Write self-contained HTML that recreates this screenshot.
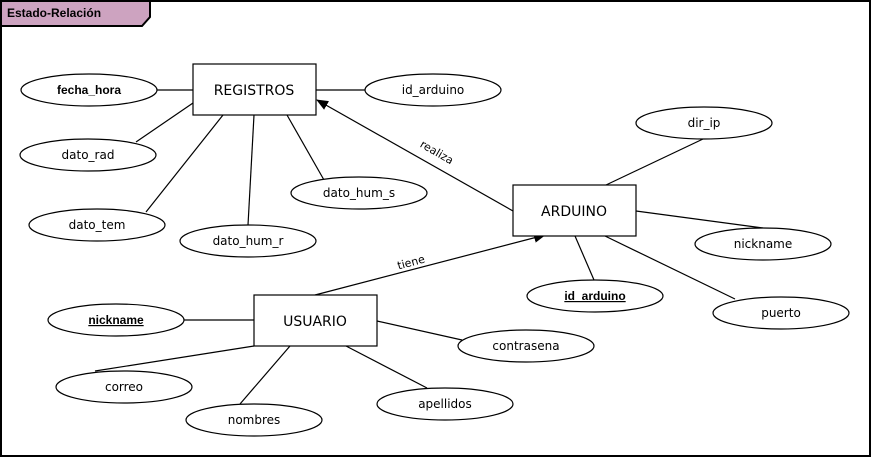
<!DOCTYPE html>
<html><head><meta charset="utf-8"><style>
html,body{margin:0;padding:0;background:#fff}
svg{display:block}
text{font-family:"DejaVu Sans","Liberation Sans",sans-serif;font-size:12px;fill:#000}
</style></head><body>
<svg width="871" height="457" viewBox="0 0 871 457" xmlns="http://www.w3.org/2000/svg">
<defs><marker id="a" markerWidth="12" markerHeight="10" refX="11" refY="5" orient="auto" markerUnits="userSpaceOnUse"><path d="M0,0 L12,5 L0,10 z" fill="#000"/></marker></defs>
<rect x="1" y="1" width="869" height="455" fill="#fff" stroke="#000" stroke-width="2"/>
<path d="M1,1 H150 V17 L142,26 H1 Z" fill="#cda3c0" stroke="#000" stroke-width="2"/>
<text x="7" y="17" style="font-family:'Liberation Sans',sans-serif;font-weight:bold;font-size:12px">Estado-Relación</text>
<g stroke="#000" stroke-width="1.2" fill="none">
<line x1="157" y1="90" x2="193" y2="90"/>
<line x1="316" y1="90" x2="365" y2="90"/>
<line x1="136" y1="142" x2="193" y2="103"/>
<line x1="146" y1="212" x2="223" y2="115"/>
<line x1="248" y1="225" x2="254" y2="115"/>
<line x1="324" y1="180" x2="287" y2="115"/>
<line x1="513" y1="211" x2="317" y2="100" marker-end="url(#a)"/>
<line x1="315" y1="295" x2="545" y2="235" marker-end="url(#a)"/>
<line x1="606" y1="185" x2="703" y2="139"/>
<line x1="636" y1="211" x2="763" y2="228"/>
<line x1="575" y1="236" x2="594" y2="280"/>
<line x1="605" y1="236" x2="735" y2="299"/>
<line x1="184" y1="320" x2="254" y2="320"/>
<line x1="377" y1="321" x2="462" y2="340"/>
<line x1="95" y1="371" x2="254" y2="346"/>
<line x1="240" y1="404" x2="290" y2="346"/>
<line x1="427" y1="388" x2="346" y2="346"/>
</g>
<g fill="#fff" stroke="#000" stroke-width="1.2">
<rect x="193" y="64" width="123" height="51"/>
<rect x="513" y="185" width="123" height="51"/>
<rect x="254" y="295" width="123" height="51"/>
<ellipse cx="89" cy="90" rx="68" ry="16"/>
<ellipse cx="433" cy="90" rx="68" ry="16"/>
<ellipse cx="88" cy="155" rx="68" ry="16"/>
<ellipse cx="97" cy="225" rx="68" ry="16"/>
<ellipse cx="248" cy="241" rx="68" ry="16"/>
<ellipse cx="359" cy="193" rx="68" ry="16"/>
<ellipse cx="704" cy="123" rx="68" ry="16"/>
<ellipse cx="763" cy="244" rx="68" ry="16"/>
<ellipse cx="595" cy="296" rx="68" ry="16"/>
<ellipse cx="781" cy="313" rx="68" ry="16"/>
<ellipse cx="116" cy="320" rx="68" ry="16"/>
<ellipse cx="526" cy="346" rx="68" ry="16"/>
<ellipse cx="124" cy="387" rx="68" ry="16"/>
<ellipse cx="254" cy="420" rx="68" ry="16"/>
<ellipse cx="445" cy="404" rx="68" ry="16"/>
</g>
<g text-anchor="middle">
<text x="254" y="95" style="font-size:14px">REGISTROS</text>
<text x="574" y="216" style="font-size:14px">ARDUINO</text>
<text x="315" y="326" style="font-size:14px">USUARIO</text>
<text x="89" y="94" font-weight="bold" style="font-family:'Liberation Sans',sans-serif;font-weight:bold">fecha_hora</text>
<text x="433" y="94">id_arduino</text>
<text x="88" y="159">dato_rad</text>
<text x="97" y="229">dato_tem</text>
<text x="248" y="245">dato_hum_r</text>
<text x="359" y="197">dato_hum_s</text>
<text x="704" y="127">dir_ip</text>
<text x="763" y="248">nickname</text>
<text x="595" y="300" text-decoration="underline" style="font-family:'Liberation Sans',sans-serif;font-weight:bold">id_arduino</text>
<text x="781" y="317">puerto</text>
<text x="116" y="324" text-decoration="underline" style="font-family:'Liberation Sans',sans-serif;font-weight:bold">nickname</text>
<text x="526" y="350">contrasena</text>
<text x="124" y="391">correo</text>
<text x="254" y="424">nombres</text>
<text x="445" y="408">apellidos</text>
<text x="437" y="156" transform="rotate(30 437 152)" style="font-size:11px">realiza</text>
<text x="411" y="266" transform="rotate(-15 411 262)" style="font-size:11px">tiene</text>
</g>
</svg>
</body></html>
